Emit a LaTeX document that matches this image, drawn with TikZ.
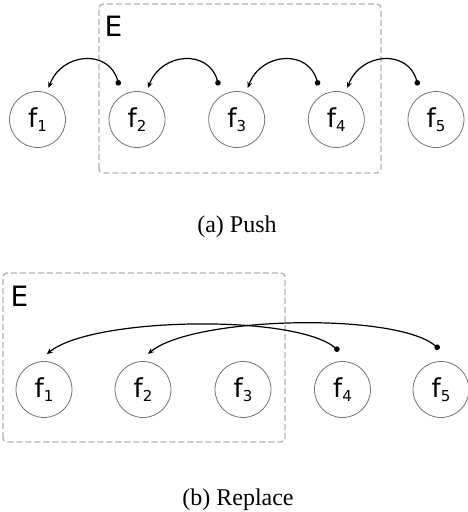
\documentclass[tikz,border=0pt]{standalone}
\usepackage{fontspec}
\setmainfont{Liberation Serif}
\newfontfamily\diagfont{DejaVu Sans}
\usetikzlibrary{arrows.meta,calc}

\newcommand{\fn}[1]{f\raisebox{-4pt}{\fontsize{15}{15}\selectfont #1}}

\begin{document}
\begin{tikzpicture}[x=1pt,y=1pt,>={Stealth[length=6pt,width=5pt]},
  fnode/.style={circle, draw=black!55, line width=0.8pt, minimum size=56pt,
    inner sep=0pt, font=\diagfont\fontsize{26}{26}\selectfont},
  ebox/.style={draw=black!30, line width=1.4pt, dash pattern=on 6pt off 3pt,
    rounded corners=4pt},
  elabel/.style={anchor=base west, inner sep=0pt,
    font=\diagfont\fontsize{28}{28}\selectfont},
  link/.style={{Circle[length=5.5pt]}->, line width=1.2pt},
  caption/.style={anchor=base, inner sep=0pt, font=\fontsize{24}{24}\selectfont}]

\useasboundingbox (0,0) rectangle (467,512);

%%%%%%%%%%%%%%%%%%%%%%%%%%%%%%%%%%%%%%%%%%
  % Push
  \begin{scope}
    % Group E
    \draw[ebox] (99,339) rectangle (381,508);
    \node[elabel] (ea) at (104.5,475) {E};

    % Nodes
    \node[fnode] (a1) at (37.5,392.5) {\fn{1}};
    \node[fnode] (a2) at (137,392.5) {\fn{2}};
    \node[fnode] (a3) at (236.7,392.5) {\fn{3}};
    \node[fnode] (a4) at (336.3,392.5) {\fn{4}};
    \node[fnode] (a5) at (436,392.5) {\fn{5}};

    % Links
    \draw[link] ($(a2.center)+(117.9:38.5pt)$) to[out=105,in=70,distance=38pt] ($(a1.center)+(70.7:33.4pt)$);
    \draw[link] ($(a3.center)+(117.9:38.5pt)$) to[out=105,in=70,distance=38pt] ($(a2.center)+(70.7:33.4pt)$);
    \draw[link] ($(a4.center)+(117.9:38.5pt)$) to[out=105,in=70,distance=38pt] ($(a3.center)+(70.7:33.4pt)$);
    \draw[link] ($(a5.center)+(117.9:38.5pt)$) to[out=105,in=70,distance=38pt] ($(a4.center)+(70.7:33.4pt)$);

    \node[caption] (capa) at (237,279.5) {(a) Push};
  \end{scope}

%%%%%%%%%%%%%%%%%%%%%%%%%%%%%%%%%%%%%%%%%%
  % Replace
  \begin{scope}
    % Group E
    \draw[ebox] (3,70) rectangle (285,239);
    \node[elabel] (eb) at (10.5,205) {E};

    % Nodes
    \node[fnode] (b1) at (44,122.5) {\fn{1}};
    \node[fnode] (b2) at (143,122.5) {\fn{2}};
    \node[fnode] (b3) at (243,122.5) {\fn{3}};
    \node[fnode] (b4) at (342.5,122.5) {\fn{4}};
    \node[fnode] (b5) at (441,122.5) {\fn{5}};

    % Links
    \draw[link] ($(b4.center)+(95.2:38.7pt)$) to[out=140,in=40,distance=58pt] ($(b1.center)+(85.6:35.3pt)$);
    \draw[link] ($(b5.center)+(92.4:40.5pt)$) to[out=140,in=40,distance=58pt] ($(b2.center)+(82:35.9pt)$);

    \node[caption] (capb) at (238,6) {(b) Replace};
  \end{scope}

\end{tikzpicture}
\end{document}
